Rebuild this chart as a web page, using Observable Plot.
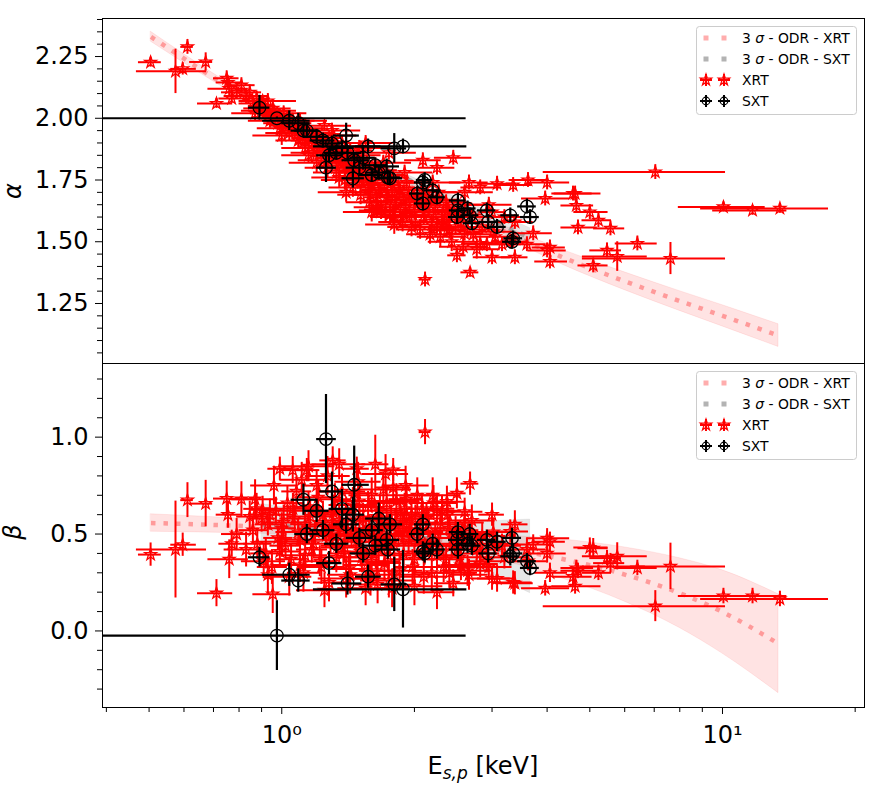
<!DOCTYPE html>
<html>
<head>
<meta charset="utf-8">
<script src="https://cdn.jsdelivr.net/npm/d3@7"></script>
<script src="https://cdn.jsdelivr.net/npm/@observablehq/plot@0.6"></script>
<style>
html,body{margin:0;padding:0;background:#fff;}
#wrap{position:relative;width:886px;height:800px;overflow:hidden;font-family:"DejaVu Sans",sans-serif;background:#fff;}
#wrap svg{position:absolute;left:0;}
.ylab{position:absolute;width:40px;height:30px;line-height:30px;text-align:center;font-size:24px;font-style:italic;transform:rotate(-90deg);}
.xlab{position:absolute;left:102px;width:762px;top:751px;text-align:center;font-size:24px;line-height:30px;white-space:nowrap;}
.xlab sub{font-size:17px;font-style:italic;vertical-align:-5px;line-height:0;}
</style>
</head>
<body>
<div id="wrap"></div>
<script>
// ---------------- XRT data ----------------
const xrtE = [0.504,0.574,0.596,0.611,0.672,0.711,0.75,0.755,0.76,0.81,0.79,0.846,0.877,0.905,0.77,0.954,0.99,1.059,1.14,1.305,1.48,1.63,1.79,2.114,2.675,2.497,3.38,3.0,
3.96,4.0,4.06,4.06,4.63,4.66,4.7,5.0,5.09,5.23,5.47,5.57,5.77,6.41,7.04,7.62,10.05,11.7,13.5,
0.86,0.88,0.90,0.92,0.93,0.95,0.97,0.98,1.00,1.02,
1.03,1.05,1.07,1.08,1.10,1.12,1.13,1.15,1.17,1.19,
1.20,1.22,1.24,1.26,1.28,1.30,1.32,1.34,1.36,1.38,
1.40,1.42,1.44,1.46,1.48,1.50,1.52,1.55,1.57,1.59,
1.61,1.64,1.66,1.68,1.71,1.73,1.76,1.78,1.81,1.84,
1.86,1.89,1.92,1.95,1.98,2.01,2.04,2.08,2.11,2.15,
2.19,2.23,2.27,2.31,2.36,2.40,2.45,2.50,2.55,2.60,
2.66,2.72,2.82,2.92,3.02,3.08,3.16,3.35,3.60,3.62,
3.72,4.00,4.58,
1.64,1.79,1.92,2.09,2.25,2.37,2.60,2.82,3.0,3.30,3.38,2.45,2.25,
0.83,0.87,0.91,0.94,0.96,0.99,1.01,1.04,1.06,1.09,
1.11,1.13,1.16,1.18,1.21,1.23,1.25,1.27,1.29,1.31,
1.33,1.35,1.37,1.39,1.41,1.43,1.45,1.47,1.49,1.51,
1.53,1.56,1.58,1.60,1.62,1.65,1.67,1.69,1.72,1.74,
1.77,1.80,1.82,1.85,1.88,1.91,1.94,1.97,2.00,2.03,
2.06,2.10,2.13,2.17,2.21,2.25,2.29,2.33,2.38,2.43,
2.48,2.53,2.58,2.64,2.70,2.77,2.85,2.95,3.05,3.20,
1.00,1.10,1.20,1.30,1.40,1.50,1.60,1.70,1.80,1.90,
2.00,2.20,2.40,2.60,1.15,1.35,1.55,1.75,1.25,0.93];
const xrtElo = [0.473,0.468,0.56,0.59,0.618,0.644,0.70,0.71,0.68,0.76,0.73,0.79,0.82,0.85,0.72,0.86,0.93,0.99,1.06,1.22,1.38,1.52,1.67,2.05,2.55,2.38,3.15,2.8,
3.5,3.6,3.7,3.75,4.1,4.3,4.3,4.6,4.7,4.8,5.0,5.1,4.81,5.71,3.92,4.81,7.94,9.5,8.92,
0.80,0.82,0.84,0.85,0.87,0.88,0.90,0.91,0.93,0.94,
0.96,0.97,0.99,1.00,1.01,1.03,1.05,1.06,1.08,1.10,
1.11,1.12,1.14,1.16,1.18,1.20,1.21,1.23,1.25,1.27,
1.28,1.30,1.32,1.34,1.36,1.37,1.39,1.42,1.44,1.46,
1.47,1.50,1.52,1.54,1.56,1.58,1.60,1.63,1.65,1.68,
1.70,1.72,1.75,1.78,1.80,1.83,1.86,1.89,1.92,1.96,
1.99,2.03,2.06,2.10,2.14,2.18,2.22,2.27,2.31,2.35,
2.40,2.46,2.55,2.64,2.73,2.78,2.86,3.03,3.26,3.28,
3.37,3.62,4.15,
1.50,1.63,1.75,1.90,2.05,2.16,2.36,2.56,2.72,3.0,3.07,2.22,2.04,
0.74,0.77,0.81,0.84,0.85,0.88,0.90,0.92,0.94,0.97,
0.99,1.00,1.03,1.05,1.07,1.09,1.11,1.13,1.14,1.16,
1.18,1.20,1.21,1.23,1.25,1.27,1.28,1.30,1.32,1.34,
1.36,1.38,1.40,1.42,1.44,1.46,1.48,1.50,1.52,1.54,
1.57,1.59,1.61,1.64,1.66,1.69,1.72,1.74,1.77,1.80,
1.82,1.86,1.89,1.92,1.96,1.99,2.03,2.06,2.10,2.15,
2.19,2.24,2.28,2.33,2.39,2.45,2.52,2.61,2.70,2.83,
0.86,0.95,1.04,1.12,1.21,1.30,1.38,1.47,1.55,1.64,
1.73,1.90,2.07,2.24,1.00,1.17,1.34,1.51,1.08,0.80];
const xrtEhi = [0.533,0.675,0.64,0.63,0.697,0.774,0.80,0.81,0.84,0.87,0.85,0.90,0.94,0.97,0.83,1.05,1.06,1.13,1.22,1.40,1.58,1.75,1.92,2.18,2.80,2.62,3.62,3.2,
4.5,4.5,4.4,4.45,5.3,5.1,5.2,5.5,5.5,5.6,5.9,6.0,6.75,7.11,10.16,10.16,12.5,14.0,17.4,
0.93,0.95,0.97,1.00,1.00,1.03,1.05,1.06,1.08,1.10,
1.12,1.14,1.16,1.17,1.20,1.22,1.23,1.25,1.27,1.30,
1.31,1.33,1.35,1.37,1.40,1.42,1.44,1.46,1.48,1.50,
1.53,1.55,1.57,1.59,1.62,1.64,1.66,1.69,1.71,1.73,
1.76,1.79,1.81,1.83,1.87,1.89,1.92,1.94,1.98,2.01,
2.03,2.07,2.10,2.13,2.17,2.20,2.24,2.28,2.32,2.36,
2.41,2.45,2.50,2.55,2.60,2.65,2.70,2.76,2.82,2.88,
2.94,3.01,3.12,3.23,3.34,3.41,3.50,3.70,3.98,4.00,
4.11,4.42,5.06,
1.79,1.96,2.11,2.30,2.47,2.60,2.86,3.10,3.30,3.63,3.72,2.69,2.47,
0.93,0.98,1.02,1.06,1.08,1.11,1.14,1.17,1.19,1.23,
1.25,1.27,1.30,1.33,1.36,1.38,1.41,1.43,1.45,1.48,
1.50,1.52,1.55,1.57,1.59,1.61,1.64,1.66,1.68,1.70,
1.73,1.76,1.78,1.81,1.83,1.86,1.89,1.91,1.94,1.97,
2.00,2.03,2.06,2.09,2.12,2.16,2.19,2.23,2.26,2.29,
2.33,2.37,2.41,2.45,2.50,2.54,2.59,2.63,2.69,2.75,
2.80,2.86,2.92,2.98,3.05,3.13,3.22,3.33,3.45,3.62,
1.16,1.27,1.39,1.51,1.62,1.74,1.86,1.97,2.09,2.20,
2.32,2.55,2.78,3.02,1.32,1.55,1.79,2.02,1.44,1.08];
const xrtAlpha = [2.227,2.19,2.20,2.289,2.228,2.06,2.162,2.145,2.12,2.134,2.105,2.105,2.08,2.07,2.08,2.04,2.01,1.99,1.95,1.90,1.84,1.80,1.76,1.347,1.376,1.445,1.437,1.62,
1.675,1.74,1.477,1.42,1.695,1.647,1.558,1.62,1.404,1.587,1.465,1.554,1.44,1.493,1.782,1.432,1.641,1.627,1.635,
2.06,2.04,2.05,2.02,2.03,2.00,2.01,1.98,1.99,1.97,
2.00,1.96,1.95,1.98,1.93,1.94,1.91,1.92,1.90,1.93,
1.88,1.89,1.91,1.86,1.87,1.84,1.88,1.85,1.82,1.86,
1.80,1.83,1.78,1.81,1.76,1.79,1.74,1.77,1.72,1.69,
1.75,1.66,1.71,1.63,1.73,1.68,1.61,1.70,1.65,1.72,
1.60,1.67,1.74,1.63,1.69,1.58,1.66,1.71,1.62,1.68,
1.57,1.64,1.70,1.59,1.66,1.55,1.84,1.62,1.58,1.65,
1.74,1.53,1.72,1.49,1.54,1.735,1.49,1.73,1.49,1.75,
1.534,1.465,1.695,
1.627,1.60,1.607,1.83,1.56,1.546,1.533,1.493,1.437,1.50,1.58,1.627,1.80,
2.09,2.02,2.03,1.99,2.03,1.96,2.02,1.94,1.99,1.91,
1.96,1.88,1.94,1.86,1.92,1.83,1.90,1.80,1.87,1.93,
1.78,1.84,1.90,1.75,1.81,1.87,1.72,1.79,1.85,1.69,
1.76,1.82,1.66,1.73,1.79,1.64,1.70,1.77,1.62,1.68,
1.74,1.60,1.66,1.71,1.58,1.64,1.69,1.56,1.62,1.67,
1.55,1.60,1.65,1.53,1.61,1.67,1.52,1.58,1.63,1.50,
1.56,1.61,1.48,1.55,1.60,1.47,1.56,1.65,1.52,1.60,
1.93,1.99,1.82,1.95,1.70,1.88,1.62,1.82,1.57,1.78,
1.68,1.74,1.60,1.70,1.85,1.76,1.90,1.86,1.97,2.07];
const xrtAlphaErr = [0.02,0.09,0.025,0.03,0.037,0.02,0.03,0.025,0.03,0.03,0.025,0.03,0.03,0.02,0.02,0.03,0.025,0.03,0.03,0.03,0.03,0.04,0.03,0.03,0.02,0.03,0.03,0.03,
0.03,0.03,0.03,0.03,0.03,0.03,0.03,0.03,0.03,0.03,0.03,0.03,0.06,0.03,0.03,0.065,0.02,0.02,0.02,
0.02,0.02,0.03,0.02,0.02,0.03,0.02,0.03,0.02,0.02,
0.03,0.02,0.03,0.02,0.03,0.02,0.03,0.02,0.03,0.02,
0.03,0.02,0.03,0.02,0.03,0.03,0.02,0.03,0.02,0.03,
0.03,0.02,0.03,0.02,0.03,0.03,0.02,0.03,0.03,0.04,
0.03,0.03,0.02,0.04,0.03,0.03,0.04,0.03,0.03,0.03,
0.04,0.03,0.03,0.03,0.03,0.04,0.03,0.03,0.03,0.03,
0.04,0.03,0.03,0.03,0.03,0.04,0.03,0.03,0.03,0.03,
0.03,0.03,0.03,0.03,0.03,0.03,0.03,0.03,0.03,0.03,
0.03,0.03,0.03,
0.03,0.03,0.03,0.03,0.03,0.03,0.03,0.03,0.03,0.03,0.03,0.03,0.03,
0.03,0.03,0.02,0.03,0.02,0.03,0.03,0.03,0.02,0.03,
0.03,0.03,0.02,0.03,0.03,0.03,0.03,0.04,0.03,0.02,
0.04,0.03,0.03,0.04,0.03,0.03,0.04,0.03,0.03,0.04,
0.03,0.03,0.04,0.03,0.03,0.04,0.03,0.03,0.04,0.03,
0.03,0.04,0.03,0.03,0.04,0.03,0.03,0.04,0.03,0.03,
0.04,0.03,0.03,0.04,0.03,0.03,0.04,0.03,0.03,0.04,
0.03,0.03,0.04,0.03,0.03,0.04,0.03,0.03,0.03,0.03,
0.04,0.03,0.04,0.03,0.04,0.03,0.04,0.03,0.04,0.03,
0.04,0.03,0.04,0.03,0.03,0.04,0.03,0.03,0.02,0.03];
const xrtBeta = [0.394,0.42,0.445,0.675,0.657,0.195,0.683,0.60,0.37,0.68,0.50,0.59,0.63,0.625,0.45,0.19,0.837,0.83,0.83,0.88,0.837,0.86,0.83,1.026,0.76,0.71,0.55,0.60,
0.22,0.478,0.46,0.30,0.23,0.325,0.31,0.43,0.427,0.30,0.376,0.35,0.385,0.325,0.128,0.333,0.18,0.18,0.165,
0.52,0.45,0.58,0.40,0.55,0.33,0.62,0.48,0.53,0.44,
0.66,0.37,0.58,0.72,0.47,0.30,0.55,0.64,0.42,0.51,
0.75,0.36,0.60,0.49,0.25,0.56,0.68,0.44,0.53,0.40,
0.62,0.32,0.50,0.71,0.46,0.57,0.38,0.52,0.64,0.27,
0.48,0.59,0.42,0.54,0.35,0.66,0.45,0.22,0.56,0.49,
0.61,0.40,0.68,0.52,0.33,0.58,0.46,0.63,0.41,0.55,
0.30,0.50,0.44,0.62,0.37,0.53,0.48,0.42,0.34,0.56,
0.29,0.47,0.40,0.36,0.51,0.27,0.44,0.25,0.42,0.36,
0.446,0.40,0.28,
0.31,0.74,0.55,0.60,0.63,0.667,0.615,0.345,0.27,0.513,0.246,0.246,0.20,
0.42,0.68,0.36,0.60,0.75,0.41,0.56,0.28,0.63,0.51,
0.78,0.39,0.59,0.45,0.69,0.33,0.54,0.80,0.47,0.61,
0.38,0.57,0.72,0.43,0.52,0.29,0.65,0.49,0.77,0.41,
0.58,0.34,0.53,0.70,0.46,0.24,0.62,0.50,0.81,0.39,
0.57,0.44,0.67,0.31,0.53,0.75,0.47,0.60,0.37,0.70,
0.51,0.28,0.58,0.45,0.66,0.39,0.55,0.33,0.60,0.44,
0.52,0.38,0.48,0.31,0.57,0.42,0.49,0.33,0.45,0.38,
0.46,0.34,0.62,0.50,0.27,0.67,0.36,0.73,0.29,0.63,
0.23,0.70,0.30,0.50,0.85,0.86,0.22,0.26,0.21,0.29];
const xrtBetaErr = [0.06,0.25,0.06,0.09,0.12,0.07,0.09,0.07,0.10,0.09,0.08,0.08,0.08,0.07,0.07,0.10,0.06,0.07,0.06,0.07,0.06,0.15,0.06,0.065,0.06,0.08,0.07,0.06,
0.04,0.05,0.05,0.05,0.04,0.04,0.04,0.05,0.05,0.04,0.04,0.05,0.07,0.04,0.08,0.12,0.04,0.04,0.04,
0.07,0.08,0.07,0.08,0.06,0.09,0.07,0.06,0.08,0.07,
0.09,0.08,0.07,0.08,0.06,0.10,0.07,0.08,0.07,0.06,
0.08,0.08,0.07,0.06,0.10,0.07,0.08,0.07,0.06,0.08,
0.07,0.09,0.07,0.08,0.06,0.07,0.08,0.07,0.08,0.09,
0.06,0.07,0.08,0.07,0.08,0.09,0.07,0.10,0.07,0.06,
0.08,0.07,0.08,0.07,0.09,0.07,0.06,0.08,0.07,0.07,
0.09,0.07,0.06,0.08,0.07,0.07,0.06,0.07,0.08,0.07,
0.08,0.06,0.07,0.06,0.07,0.07,0.06,0.06,0.06,0.05,
0.05,0.05,0.05,
0.08,0.08,0.07,0.07,0.08,0.08,0.07,0.07,0.06,0.06,0.06,0.07,0.09,
0.09,0.10,0.09,0.08,0.10,0.08,0.09,0.10,0.08,0.07,
0.09,0.08,0.09,0.07,0.09,0.09,0.08,0.10,0.07,0.09,
0.08,0.08,0.09,0.08,0.07,0.10,0.09,0.07,0.10,0.08,
0.08,0.09,0.07,0.09,0.08,0.10,0.08,0.07,0.10,0.08,
0.08,0.07,0.09,0.09,0.08,0.10,0.07,0.08,0.08,0.09,
0.07,0.09,0.08,0.07,0.09,0.08,0.07,0.08,0.08,0.07,
0.07,0.08,0.07,0.08,0.08,0.07,0.07,0.07,0.06,0.06,
0.08,0.09,0.08,0.08,0.10,0.09,0.08,0.09,0.09,0.08,
0.10,0.09,0.08,0.07,0.08,0.08,0.09,0.09,0.09,0.10];

// ---------------- SXT data ----------------
const sxtE = [0.975,1.884,0.89,1.04,1.09,1.12,1.14,1.20,1.26,1.30,1.40,1.41,1.45,1.46,1.50,1.53,1.57,1.60,1.63,1.66,1.73,1.74,1.76,1.80,
1.37,1.33,1.24,1.28,2.03,2.09,2.11,2.09,2.20,2.25,2.51,2.51,2.50,2.64,2.67,2.70,2.92,2.94,3.08,3.30,3.33,3.60,3.66,3.35];
const sxtElo = [0.30,1.18,0.84,0.905,1.0,1.05,1.07,1.12,1.20,1.22,1.31,1.30,1.37,1.37,1.40,1.43,1.47,1.50,1.52,1.55,1.62,1.63,1.65,1.68,
1.28,1.25,1.16,1.20,1.95,2.00,2.02,2.00,2.10,2.15,2.40,2.40,2.39,2.52,2.55,2.58,2.78,2.80,2.93,3.14,3.17,3.43,3.48,3.19];
const sxtEhi = [2.62,2.63,0.94,1.16,1.16,1.20,1.22,1.28,1.33,1.38,1.50,1.52,1.54,1.58,1.60,1.63,1.68,1.70,1.74,1.77,1.85,1.86,1.88,1.92,
1.46,1.42,1.32,1.37,2.11,2.18,2.20,2.18,2.30,2.35,2.62,2.62,2.61,2.76,2.80,2.83,3.06,3.08,3.23,3.46,3.50,3.78,3.84,3.52];
const sxtAlpha = [2.00,1.886,2.043,1.99,1.98,1.95,1.95,1.925,1.80,1.898,1.93,1.86,1.757,1.83,1.80,1.84,1.886,1.77,1.81,1.78,1.805,1.76,1.757,1.878,
1.88,1.86,1.91,1.85,1.695,1.74,1.75,1.655,1.708,1.68,1.667,1.627,1.60,1.635,1.607,1.575,1.627,1.58,1.56,1.607,1.50,1.643,1.60,1.514];
const sxtAlphaErr = [0.005,0.03,0.05,0.04,0.04,0.03,0.03,0.03,0.06,0.03,0.05,0.03,0.04,0.03,0.03,0.05,0.03,0.03,0.03,0.03,0.03,0.03,0.03,0.06,
0.03,0.03,0.03,0.03,0.03,0.03,0.03,0.03,0.03,0.03,0.03,0.03,0.03,0.03,0.03,0.03,0.03,0.03,0.03,0.03,0.03,0.03,0.03,0.03];
const sxtBeta = [-0.024,0.215,0.38,0.29,0.26,0.677,0.50,0.62,0.99,0.72,0.55,0.245,0.60,0.754,0.48,0.40,0.28,0.52,0.44,0.58,0.47,0.42,0.55,0.24,
0.63,0.45,0.52,0.35,0.50,0.55,0.40,0.41,0.45,0.42,0.51,0.42,0.47,0.45,0.50,0.44,0.47,0.40,0.46,0.385,0.48,0.36,0.325,0.40];
const sxtBetaErr = [0.18,0.2,0.05,0.06,0.06,0.08,0.05,0.06,0.23,0.10,0.05,0.06,0.09,0.2,0.05,0.05,0.06,0.05,0.05,0.08,0.05,0.05,0.05,0.14,
0.10,0.05,0.05,0.06,0.05,0.05,0.05,0.05,0.05,0.05,0.05,0.05,0.05,0.05,0.05,0.05,0.05,0.05,0.05,0.05,0.05,0.04,0.04,0.05];

// ---------------- 3 sigma ODR fits ----------------
const fitXrtE = [0.505,0.7,1.0,1.5,2.0,3.0,4.3,6.0,8.0,10.0,13.4];
const fitXrtAlpha = [2.33,2.165,2.0,1.83,1.715,1.565,1.44,1.34,1.26,1.20,1.12];
const fitXrtAlphaHalf = [0.02,0.016,0.013,0.012,0.014,0.02,0.03,0.036,0.04,0.043,0.046];
const fitXrtBeta = [0.557,0.547,0.533,0.509,0.484,0.436,0.373,0.291,0.195,0.098,-0.066];
const fitXrtBetaHalf = [0.045,0.04,0.035,0.035,0.04,0.06,0.10,0.14,0.18,0.215,0.255];
const fitSxtE = [0.9,1.2,1.6,2.0,2.6,3.2,3.66];
const fitSxtAlpha = [2.04,1.93,1.82,1.74,1.64,1.565,1.515];
const fitSxtAlphaHalf = [0.03,0.02,0.015,0.018,0.025,0.035,0.04];
const fitSxtBeta = [0.55,0.53,0.51,0.485,0.45,0.414,0.385];
const fitSxtBetaHalf = [0.105,0.085,0.075,0.08,0.11,0.155,0.19];

// ---------------- axes ----------------
const xDomain = [0.392, 21.0];
const xMajor = [1, 10];
const xMajorLabels = ["10⁰", "10¹"];
const xMinor = [0.4,0.5,0.6,0.7,0.8,0.9,2,3,4,5,6,7,8,9,20];
const alphaDomain = [1.007, 2.404];
const alphaMajor = [1.25,1.50,1.75,2.00,2.25];
const alphaMinor = [1.05,1.10,1.15,1.20,1.30,1.35,1.40,1.45,1.55,1.60,1.65,1.70,1.80,1.85,1.90,1.95,2.05,2.10,2.15,2.20,2.30,2.35,2.40];
const betaDomain = [-0.395, 1.38];
const betaMajor = [0.0,0.5,1.0];
const betaMinor = [-0.3,-0.2,-0.1,0.1,0.2,0.3,0.4,0.6,0.7,0.8,0.9,1.1,1.2,1.3];
const legendLabels = ["ODR - XRT", "ODR - SXT", "XRT", "SXT"];

// ---------------- build tables ----------------
const xrt = xrtE.map((e, i) => ({e, lo: xrtElo[i], hi: xrtEhi[i], alpha: xrtAlpha[i], alphaErr: xrtAlphaErr[i], beta: xrtBeta[i], betaErr: xrtBetaErr[i]}));
const sxt = sxtE.map((e, i) => ({e, lo: sxtElo[i], hi: sxtEhi[i], alpha: sxtAlpha[i], alphaErr: sxtAlphaErr[i], beta: sxtBeta[i], betaErr: sxtBetaErr[i]}));
const fitX = {
  alpha: fitXrtE.map((e, i) => ({e, c: fitXrtAlpha[i], h: fitXrtAlphaHalf[i]})),
  beta: fitXrtE.map((e, i) => ({e, c: fitXrtBeta[i], h: fitXrtBetaHalf[i]}))
};
const fitS = {
  alpha: fitSxtE.map((e, i) => ({e, c: fitSxtAlpha[i], h: fitSxtAlphaHalf[i]})),
  beta: fitSxtE.map((e, i) => ({e, c: fitSxtBeta[i], h: fitSxtBetaHalf[i]}))
};

const wrap = document.getElementById("wrap");
const W = 886, ML = 102, MR = 22;

function panel({key, yDomain, yMajor, yMinor, fmt, height, mt, mb, top, showX}) {
  const errKey = key + "Err";
  const marks = [
    Plot.areaY(fitX[key], {x: "e", y1: d => d.c - d.h, y2: d => d.c + d.h, fill: "#ff0000", fillOpacity: 0.11, stroke: "#ff0000", strokeOpacity: 0.08, curve: "monotone-x", clip: true}),
    Plot.areaY(fitS[key], {x: "e", y1: d => d.c - d.h, y2: d => d.c + d.h, fill: "#808080", fillOpacity: 0.2, stroke: "#808080", strokeOpacity: 0.1, curve: "monotone-x", clip: true}),
    Plot.line(fitX[key], {x: "e", y: "c", stroke: "#ff0000", strokeOpacity: 0.32, strokeWidth: 4.5, strokeDasharray: "4.5,8", strokeLinecap: "butt", curve: "monotone-x", clip: true}),
    Plot.line(fitS[key], {x: "e", y: "c", stroke: "#808080", strokeOpacity: 0.6, strokeWidth: 4.5, strokeDasharray: "4.5,8", strokeLinecap: "butt", curve: "monotone-x", clip: true}),
    Plot.ruleY(xrt, {y: key, x1: "lo", x2: "hi", stroke: "#ff0000", strokeWidth: 2, clip: true}),
    Plot.ruleX(xrt, {x: "e", y1: d => d[key] - d[errKey], y2: d => d[key] + d[errKey], stroke: "#ff0000", strokeWidth: 2, clip: true}),
    Plot.dot(xrt, {x: "e", y: key, symbol: "star", r: 3.7, stroke: "#ff0000", strokeWidth: 1.3, fill: "none", clip: true}),
    Plot.ruleY(sxt, {y: key, x1: "lo", x2: "hi", stroke: "#000", strokeWidth: 2.2, clip: true}),
    Plot.ruleX(sxt, {x: "e", y1: d => d[key] - d[errKey], y2: d => d[key] + d[errKey], stroke: "#000", strokeWidth: 2.2, clip: true}),
    Plot.dot(sxt, {x: "e", y: key, r: 6.3, stroke: "#000", strokeWidth: 1.3, fill: "none", clip: true}),
    Plot.frame({stroke: "#000", strokeWidth: 1}),
    Plot.axisY(yMajor, {tickSize: 7, tickPadding: 7, tickFormat: fmt, label: null}),
    Plot.axisY(yMinor, {tickSize: 5, tickFormat: () => "", label: null})
  ];
  if (showX) {
    marks.push(Plot.axisX(xMajor, {tickSize: 7, tickPadding: 11, tickFormat: d => xMajorLabels[xMajor.indexOf(d)], label: null}));
    marks.push(Plot.axisX(xMinor, {tickSize: 5, tickFormat: () => "", label: null}));
  }
  const svg = Plot.plot({
    width: W, height, marginLeft: ML, marginRight: MR, marginTop: mt, marginBottom: mb,
    style: {fontFamily: "DejaVu Sans", fontSize: "24px", background: "transparent", color: "#000", overflow: "visible"},
    x: {type: "log", domain: xDomain, axis: showX ? undefined : null},
    y: {domain: yDomain},
    marks
  });
  svg.style.top = top + "px";
  wrap.appendChild(svg);
}

panel({key: "alpha", yDomain: alphaDomain, yMajor: alphaMajor, yMinor: alphaMinor, fmt: d => d.toFixed(2), height: 364, mt: 18, mb: 1, top: 0, showX: false});
panel({key: "beta", yDomain: betaDomain, yMajor: betaMajor, yMinor: betaMinor, fmt: d => d.toFixed(1), height: 438, mt: 1, mb: 93, top: 362, showX: true});

// axis labels
function ylab(txt, cx, cy) {
  const d = document.createElement("div");
  d.className = "ylab";
  d.textContent = txt;
  d.style.left = (cx - 20) + "px";
  d.style.top = (cy - 15) + "px";
  wrap.appendChild(d);
}
ylab("α", 13, 191);
ylab("β", 13, 532);
const xl = document.createElement("div");
xl.className = "xlab";
xl.innerHTML = "E<sub>s,p</sub> [keV]";
wrap.appendChild(xl);

// legends
const lg = d3.select(wrap).append("svg").attr("width", 886).attr("height", 800).style("top", "0px").style("pointer-events", "none");
const starPath = d3.symbol(d3.symbolStar, 40)();
function legend(y0) {
  const g = lg.append("g");
  g.append("rect").attr("x", 696.5).attr("y", y0).attr("width", 160).attr("height", 88).attr("rx", 3)
    .attr("fill", "#fff").attr("fill-opacity", 0.8).attr("stroke", "#cccccc").attr("stroke-width", 1);
  const rows = [y0 + 11.5, y0 + 32.5, y0 + 53.5, y0 + 74.5];
  const hx = [706, 724];
  [["#ff0000", 0.32], ["#808080", 0.6]].forEach(([c, o], k) => {
    hx.forEach(x => g.append("rect").attr("x", x - 2.5).attr("y", rows[k] - 2.5).attr("width", 5).attr("height", 5).attr("fill", c).attr("fill-opacity", o));
  });
  hx.forEach(x => {
    g.append("line").attr("x1", x - 6).attr("x2", x + 6).attr("y1", rows[2]).attr("y2", rows[2]).attr("stroke", "#ff0000").attr("stroke-width", 2);
    g.append("line").attr("x1", x).attr("x2", x).attr("y1", rows[2] - 6).attr("y2", rows[2] + 6).attr("stroke", "#ff0000").attr("stroke-width", 2);
    g.append("path").attr("d", starPath).attr("transform", `translate(${x},${rows[2]})`).attr("fill", "none").attr("stroke", "#ff0000").attr("stroke-width", 1.2);
  });
  hx.forEach(x => {
    g.append("line").attr("x1", x - 6).attr("x2", x + 6).attr("y1", rows[3]).attr("y2", rows[3]).attr("stroke", "#000").attr("stroke-width", 2);
    g.append("line").attr("x1", x).attr("x2", x).attr("y1", rows[3] - 6).attr("y2", rows[3] + 6).attr("stroke", "#000").attr("stroke-width", 2);
    g.append("circle").attr("cx", x).attr("cy", rows[3]).attr("r", 3.8).attr("fill", "none").attr("stroke", "#000").attr("stroke-width", 1.2);
  });
  const txt = (k) => g.append("text").attr("x", 742).attr("y", rows[k] + 5).attr("font-family", "DejaVu Sans").attr("font-size", "13.9px").attr("fill", "#000");
  [0, 1].forEach(k => {
    const t = txt(k);
    t.append("tspan").text("3 ");
    t.append("tspan").attr("font-style", "italic").text("σ");
    t.append("tspan").text(" - " + legendLabels[k]);
  });
  txt(2).text(legendLabels[2]);
  txt(3).text(legendLabels[3]);
}
legend(26.5);
legend(371.5);
</script>
</body>
</html>
